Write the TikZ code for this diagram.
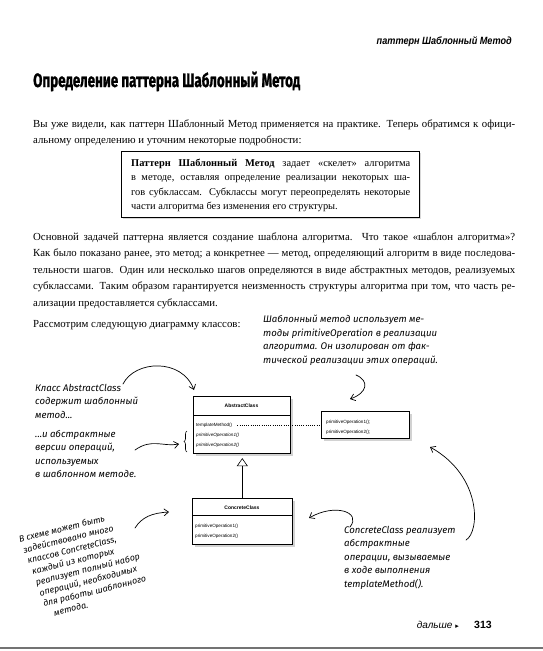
\documentclass[tikz,border=0pt]{standalone}
\usepackage{graphicx}
\usepackage{fontspec}
\setmainfont{Liberation Serif}
\newfontfamily\sansf{Liberation Sans}
\newfontfamily\handf{Fira Sans}
\newfontfamily\titlef{Fira Sans}[BoldFeatures={FakeBold=1.5}]
\newfontfamily\symf{DejaVu Sans}
\usetikzlibrary{arrows.meta,shadows,decorations.pathreplacing}
\begin{document}
\begin{tikzpicture}[x=1pt,y=-1pt,
  body/.style={inner sep=0pt, anchor=base west, font=\fontsize{10.8}{13}\selectfont},
  defl/.style={inner sep=0pt, anchor=base west, font=\fontsize{10.4}{13}\selectfont},
  hand/.style={inner sep=0pt, anchor=north west, align=left, font=\handf\itshape\fontsize{9.6}{13.5}\selectfont},
  umlbox/.style={draw=black, line width=0.6pt, fill=white, drop shadow={shadow xshift=2.5pt, shadow yshift=-2.5pt, opacity=0.35}, inner sep=0pt, anchor=north west},
  umltext/.style={inner sep=0pt, anchor=base west, font=\sansf\fontsize{4.6}{6}\selectfont},
  umlital/.style={umltext, font=\sansf\itshape\fontsize{4.6}{6}\selectfont},
  umlname/.style={inner sep=0pt, anchor=base, font=\sansf\bfseries\fontsize{5}{6}\selectfont},
  hline/.style={line width=0.7pt, -{Straight Barb[length=4.5pt,width=7pt]}, line cap=round},
]
\useasboundingbox (0,0) rectangle (543,651);
\fill[white] (0,0) rectangle (543,651);

% header
\node[inner sep=0pt, anchor=base east, font=\sansf\bfseries\itshape\fontsize{10.5}{12}\selectfont] (hdr) at (512,44) {\scalebox{0.87}[1]{паттерн Шаблонный Метод}};

% title
\node[inner sep=0pt, anchor=base west] (title) at (33,87) {\resizebox{267pt}{15.5pt}{\titlef\bfseries Определение паттерна Шаблонный Метод}};

% paragraph 1
\node[body] (p1a) at (33,127) {\makebox[482pt][s]{Вы уже видели, как паттерн Шаблонный Метод применяется на практике. Теперь обратимся к офици-}};
\node[body] (p1b) at (33,143) {альному определению и уточним некоторые подробности:};

% definition box
\node[draw, line width=1pt, fill=white, minimum width=298pt, minimum height=66pt, anchor=north west, inner sep=0pt, drop shadow={shadow xshift=1.2pt, shadow yshift=-1.2pt, opacity=0.3}] (defbox) at (121,151) {};
\node[defl] (d1) at (131,166) {\makebox[279pt][s]{\textbf{Паттерн Шаблонный Метод} задает «скелет» алгоритма}};
\node[defl] (d2) at (131,180.5) {\makebox[279pt][s]{в методе, оставляя определение реализации некоторых ша-}};
\node[defl] (d3) at (131,195) {\makebox[279pt][s]{гов субклассам. Субклассы могут переопределять некоторые}};
\node[defl] (d4) at (131,209.5) {части алгоритма без изменения его структуры.};

% paragraph 2
\node[body] (p2a) at (33,240) {\makebox[482pt][s]{Основной задачей паттерна является создание шаблона алгоритма. Что такое «шаблон алгоритма»?}};
\node[body] (p2b) at (33,256.5) {\makebox[482pt][s]{Как было показано ранее, это метод; а конкретнее — метод, определяющий алгоритм в виде последова-}};
\node[body] (p2c) at (33,273) {\makebox[482pt][s]{тельности шагов. Один или несколько шагов определяются в виде абстрактных методов, реализуемых}};
\node[body] (p2d) at (33,289.5) {\makebox[482pt][s]{субклассами. Таким образом гарантируется неизменность структуры алгоритма при том, что часть ре-}};
\node[body] (p2e) at (33,306) {ализации предоставляется субклассами.};
\node[body] (p3) at (33,327) {Рассмотрим следующую диаграмму классов:};

% UML: AbstractClass
\node[umlbox, minimum width=97pt, minimum height=57pt] (abs) at (193,396) {};
\node[umlname] (absname) at (241.5,407) {AbstractClass};
\draw[line width=0.5pt] ([yshift=-19pt]abs.north west) -- ([yshift=-19pt]abs.north east);
\node[umltext] (absop1) at (196,426) {templateMethod()};
\node[umlital] (absop2) at (196,436) {primitiveOperation1()};
\node[umlital] (absop3) at (196,446) {primitiveOperation2()};

% code note box
\node[umlbox, minimum width=88pt, minimum height=27pt] (code) at (321,411) {};
\node[umltext] (code1) at (326,423) {primitiveOperation1();};
\node[umltext] (code2) at (326,433) {primitiveOperation2();};
\draw[line width=0.6pt, dash pattern=on 0.7pt off 1.5pt] ([xshift=5pt]absop1.east) -- (absop1.east -| code.west);

% UML: ConcreteClass
\node[umlbox, minimum width=100pt, minimum height=46pt] (conc) at (192,498) {};
\node[umlname] (concname) at (242,509) {ConcreteClass};
\draw[line width=0.5pt] ([yshift=-17pt]conc.north west) -- ([yshift=-17pt]conc.north east);
\node[umltext] (concop1) at (195,527) {primitiveOperation1()};
\node[umltext] (concop2) at (195,537) {primitiveOperation2()};

% inheritance
\draw[line width=0.6pt, -{Triangle[open, length=8pt, width=11pt, line width=0.6pt]}, shorten >=4.5pt] (conc.north) -- (conc.north |- abs.south);

% annotation: template method uses primitive operations
\node[hand] (noteA) at (263,315) {Шаблонный метод использует ме-\\тоды primitiveOperation в реализации\\алгоритма. Он изолирован от фак-\\тической реализации этих операций.};
\coordinate (aS) at (356,375);
\coordinate (aE) at (350,399);
\draw[hline] (aS) .. controls (370,381) and (367,393) .. (aE);

% annotation: AbstractClass contains template method
\node[hand] (noteB1) at (35,384) {Класс AbstractClass\\содержит шаблонный\\метод...};
\coordinate (b1S) at (123,384);
\coordinate (b1E) at (194,390);
\draw[hline] (b1S) .. controls (135,360) and (182,358) .. (b1E);

\node[hand] (noteB2) at (35,430) {...и абстрактные\\версии операций,\\используемых\\в шаблонном методе.};
\coordinate (b2S) at (135,450);
\coordinate (b2E) at (179,444);
\draw[hline] (b2S) .. controls (152,438) and (163,447) .. (b2E);
\draw[line width=0.6pt, decorate, decoration={brace, amplitude=3pt}] (187,452) -- (187,431);

% annotation: many ConcreteClass
\node[hand, rotate=14, font=\handf\itshape\fontsize{8.8}{11.4}\selectfont] (noteC) at (18,536) {В схеме может быть\\\hspace*{1.5pt}задействовано много\\\hspace*{3pt}классов ConcreteClass,\\\hspace*{5pt}каждый из которых\\\hspace*{6pt}реализует полный набор\\\hspace*{7pt}операций, необходимых\\\hspace*{8pt}для работы шаблонного\\\hspace*{16pt}метода.};
\coordinate (cS) at (135,528);
\coordinate (cE) at (169,512);
\draw[hline] (cS) .. controls (142,517) and (152,513) .. (cE);

% annotation: ConcreteClass implements
\node[hand] (noteD) at (344,526) {ConcreteClass реализует\\абстрактные\\операции, вызываемые\\в ходе выполнения\\templateMethod().};
\coordinate (d1S) at (350,527);
\coordinate (d1E) at (309,518);
\draw[hline] (d1S) .. controls (362,512) and (335,503) .. (d1E);
\coordinate (d2S) at (466,540);
\coordinate (d2E) at (430,447);
\draw[hline] (d2S) .. controls (480,532) and (482,476) .. (d2E);

% footer
\node[inner sep=0pt, anchor=base east, font=\sansf\itshape\fontsize{10}{12}\selectfont] (next) at (459,628) {дальше {\symf\fontsize{7}{8}\selectfont ▸}};
\node[inner sep=0pt, anchor=base west, font=\sansf\bfseries\fontsize{10.5}{12}\selectfont] (pnum) at (474,628) {313};
\draw[black!55, line width=1.2pt] (0,648) -- (543,648);
\end{tikzpicture}
\end{document}
